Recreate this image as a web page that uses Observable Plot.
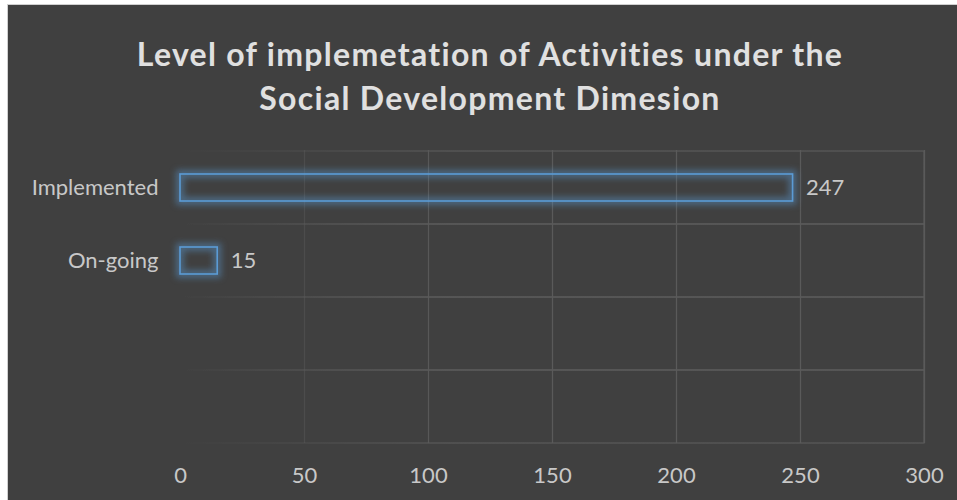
<!DOCTYPE html>
<html>
<head>
<meta charset="utf-8">
<script src="https://cdn.jsdelivr.net/npm/d3@7"></script>
<script src="https://cdn.jsdelivr.net/npm/@observablehq/plot@0.6"></script>
<style>
  html, body { margin: 0; padding: 0; background: #ffffff; }
  #frame {
    position: absolute; left: 7px; top: 4px; width: 950px; height: 496px;
    background: #404040; border-left: 1px solid #d0d0d0; border-top: 1px solid #d0d0d0;
    font-family: Lato, "Open Sans", sans-serif; overflow: hidden;
  }
  #title {
    position: absolute; left: 0; top: 27px; width: 100%; text-align: center;
    color: #e0e0e0; font-weight: bold; font-size: 32px; line-height: 44px;
    letter-spacing: 1.3px; margin-left: 7px;
  }
  #chart { position: absolute; left: 0; top: 125px; }
</style>
</head>
<body>
<div id="frame">
  <div id="title">Level of implemetation of Activities under the<br>Social Development Dimesion</div>
  <div id="chart"></div>
</div>
<script>
const categories = ["Implemented", "On-going", " ", "  "];
const values = [247, 15, null, null];
const xTicks = [0, 50, 100, 150, 200, 250, 300];

const data = categories.map((c, i) => ({category: c, value: values[i]}));
const bars = data.filter(d => d.value != null);

const W = 950, H = 370;
const plot = Plot.plot({
  width: W,
  height: H,
  marginLeft: 172,
  marginRight: 34,
  marginTop: 20,
  marginBottom: 57,
  style: {background: "transparent", color: "#c8c8c8", fontFamily: "Lato, 'Open Sans', sans-serif", fontSize: "22px"},
  x: {domain: [0, 300], ticks: xTicks, label: null, axis: null},
  y: {domain: categories, padding: 0, label: null, axis: null},
  marks: [
    // grid cells (band edges)
    Plot.barX(categories, {y: d => d, x1: 0, x2: 300, fill: "none", stroke: "url(#gridfade)", strokeWidth: 1.2}),
    Plot.ruleX(xTicks.filter(t => t > 0), {stroke: "url(#gridfade)", strokeWidth: 1.2}),
    // glow
    Plot.barX(bars, {y: "category", x: "value", insetTop: 23, insetBottom: 23, fill: "none", stroke: "#5B9BD5", strokeWidth: 8, strokeOpacity: 0.45, className: "glow"}),
    Plot.barX(bars, {y: "category", x: "value", insetTop: 23, insetBottom: 23, fill: "none", stroke: "#5B9BD5", strokeWidth: 1.6}),
    Plot.text(bars, {y: "category", x: "value", text: d => String(d.value), textAnchor: "start", dx: 13, fill: "#c8c8c8", fontSize: 22}),
    Plot.axisY({tickSize: 0, tickPadding: 22, fontSize: 22, color: "#c8c8c8", tickFormat: d => d.trim()}),
    Plot.axisX({ticks: xTicks, tickSize: 0, tickPadding: 24, fontSize: 22, color: "#c8c8c8"})
  ]
});
document.getElementById("chart").appendChild(plot);

// gradient for fading grid lines, and blur for glow
const svg = d3.select(plot);
const defs = svg.insert("defs", ":first-child");
const g = defs.append("linearGradient").attr("id", "gridfade")
  .attr("gradientUnits", "userSpaceOnUse").attr("x1", 172).attr("x2", 440).attr("y1", 0).attr("y2", 0);
g.append("stop").attr("offset", "0").attr("stop-color", "#5a5a5a").attr("stop-opacity", 0);
g.append("stop").attr("offset", "1").attr("stop-color", "#5a5a5a").attr("stop-opacity", 1);
svg.selectAll(".glow").style("filter", "blur(3px)");
</script>
</body>
</html>
